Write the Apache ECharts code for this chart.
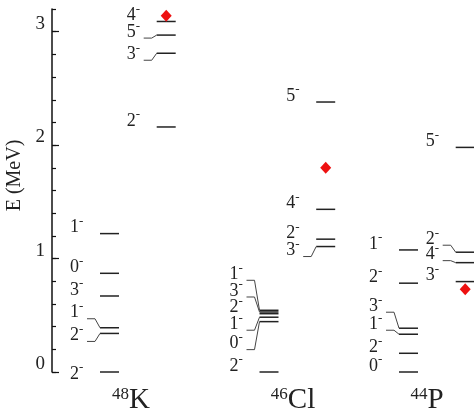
<!DOCTYPE html>
<html>
<head>
<meta charset="utf-8">
<script src="https://cdn.jsdelivr.net/npm/echarts@6/dist/echarts.min.js"></script>
<style>
  html, body { margin: 0; background: #fff; }
  #chart { width: 474px; height: 417px; }
</style>
</head>
<body>
<div id="chart"></div>
<script>
// nuclei
const massNumbers = ['48', '46', '44'];
const elements = ['K', 'Cl', 'P'];

// levels (MeV) and spins, column 0 = low-lying, 1 = upper column
const k48Energy = [0, 0.34, 0.39, 0.67, 0.87, 1.22, 2.16, 2.81, 2.97, 3.09];
const k48Spin = ['2', '2', '1', '3', '0', '1', '2', '3', '5', '4'];
const k48Col = [0, 0, 0, 0, 0, 0, 1, 1, 1, 1];

const cl46Energy = [0, 0.444, 0.483, 0.514, 0.529, 0.544, 1.106, 1.171, 1.434, 2.38];
const cl46Spin = ['2', '0', '1', '2', '3', '1', '3', '2', '4', '5'];
const cl46Col = [0, 0, 0, 0, 0, 0, 1, 1, 1, 1];

const p44Energy = [0, 0.165, 0.333, 0.386, 0.783, 1.076, 0.797, 0.964, 1.056, 1.98];
const p44Spin = ['0', '2', '1', '3', '2', '1', '3', '4', '2', '5'];
const p44Col = [0, 0, 0, 0, 0, 0, 1, 1, 1, 1];

// red diamonds (MeV), one per nucleus, in the upper column
const diamondEnergy = [3.14, 1.80, 0.73];

// layout only: label displacement in px (connector drawn when moved)
const k48Shift = [8, 8, -9, 0, 0, 0, 0, 7, 3, 0];
const cl46Shift = [0, 28, 13, 0, -15, -30, 10, 0, 0, 0];
const p44Shift = [0, 0, -4, -16, 0, 0, 0, -2, -7, 0];
const columnStart = [48, 207.5, 347];   // x of the low column, axis units (= px)
const columnGap = 56.7;
const levelWidth = 19;
const nameX = [79, 241, 375];

const FONT = '"Liberation Serif", "Times New Roman", serif';

const sets = [
  [k48Energy, k48Spin, k48Col, k48Shift],
  [cl46Energy, cl46Spin, cl46Col, cl46Shift],
  [p44Energy, p44Spin, p44Col, p44Shift]
];
const levels = [];
sets.forEach(function (s, n) {
  s[0].forEach(function (e, i) {
    const x0 = columnStart[n] + s[2][i] * columnGap;
    levels.push([x0, e, s[1][i], s[3][i]]);
  });
});
const diamonds = diamondEnergy.map(function (e, n) {
  return [columnStart[n] + columnGap + levelWidth / 2, e];
});
const names = massNumbers.map(function (m, n) {
  return [nameX[n], 0, m, elements[n]];
});

const chart = echarts.init(document.getElementById('chart'));
chart.setOption({
  animation: false,
  grid: { left: 52, right: 0, top: 9, bottom: 45, containLabel: false, outerBoundsMode: 'none' },
  xAxis: {
    type: 'value', min: 0, max: 422, show: false
  },
  yAxis: [{
    type: 'value', min: 0, max: 3.2, interval: 0.2, position: 'left', offset: 0,
    name: 'E (MeV)', nameLocation: 'middle', nameGap: 26, nameRotate: 90,
    nameTextStyle: { fontFamily: FONT, fontSize: 20, color: '#222', padding: [0, 0, 0, 30] },
    axisLine: { show: true, lineStyle: { color: '#111', width: 1.5 } },
    axisTick: { show: true, inside: true, length: 4, lineStyle: { color: '#111', width: 1.2 } },
    axisLabel: {
      customValues: [0, 1, 2, 3], margin: 7, verticalAlign: 'bottom', lineHeight: 16,
      fontFamily: FONT, fontSize: 19, color: '#222'
    },
    splitLine: { show: false }
  }, {
    type: 'value', min: 0, max: 3.2, interval: 0.2, position: 'left', offset: 0,
    axisLine: { show: false },
    axisTick: { show: true, inside: true, length: 7, customValues: [0, 1, 2, 3], lineStyle: { color: '#111', width: 1.2 } },
    axisLabel: { show: false },
    splitLine: { show: false }
  }],
  series: [{
    type: 'custom',
    coordinateSystem: 'cartesian2d',
    data: levels,
    renderItem: function (params, api) {
      const p0 = api.coord([api.value(0), api.value(1)]);
      const p1 = api.coord([api.value(0) + levelWidth, api.value(1)]);
      const spin = levels[params.dataIndex][2];
      const shift = levels[params.dataIndex][3];
      const ly = p0[1] + shift;
      const children = [{
        type: 'line',
        shape: { x1: p0[0], y1: p0[1], x2: p1[0], y2: p1[1] },
        style: { stroke: '#222', lineWidth: 1.5 }
      }, {
        type: 'text',
        style: {
          text: spin, x: p0[0] - 21, y: ly + 2, align: 'right', verticalAlign: 'bottom',
          fontFamily: FONT, fontSize: 18, lineHeight: 16, fill: '#222'
        }
      }, {
        type: 'text',
        style: {
          text: '-', x: p0[0] - 21, y: ly - 12, align: 'left', verticalAlign: 'middle',
          fontFamily: FONT, fontSize: 13, fill: '#222'
        }
      }];
      if (shift !== 0 && api.value(1) > 0) {
        children.push({
          type: 'polyline',
          shape: { points: [[p0[0] - 13, ly], [p0[0] - 5, ly], [p0[0], p0[1]]] },
          style: { stroke: '#444', lineWidth: 1, fill: null }
        });
      }
      return { type: 'group', children: children };
    }
  }, {
    type: 'scatter',
    data: diamonds,
    symbol: 'diamond',
    symbolSize: [11, 12],
    itemStyle: { color: '#ee1111', opacity: 1 },
    z: 3
  }, {
    type: 'custom',
    coordinateSystem: 'cartesian2d',
    data: names,
    renderItem: function (params, api) {
      const p = api.coord([api.value(0), 0]);
      const d = names[params.dataIndex];
      return {
        type: 'text',
        style: {
          text: '{m|' + d[2] + '}{e|' + d[3] + '}',
          x: p[0], y: p[1] + 42, align: 'center', verticalAlign: 'bottom',
          rich: {
            m: { fontFamily: FONT, fontSize: 17, lineHeight: 28, verticalAlign: 'top', fill: '#222' },
            e: { fontFamily: FONT, fontSize: 29, lineHeight: 28, fill: '#222' }
          }
        }
      };
    }
  }]
});
</script>
</body>
</html>
